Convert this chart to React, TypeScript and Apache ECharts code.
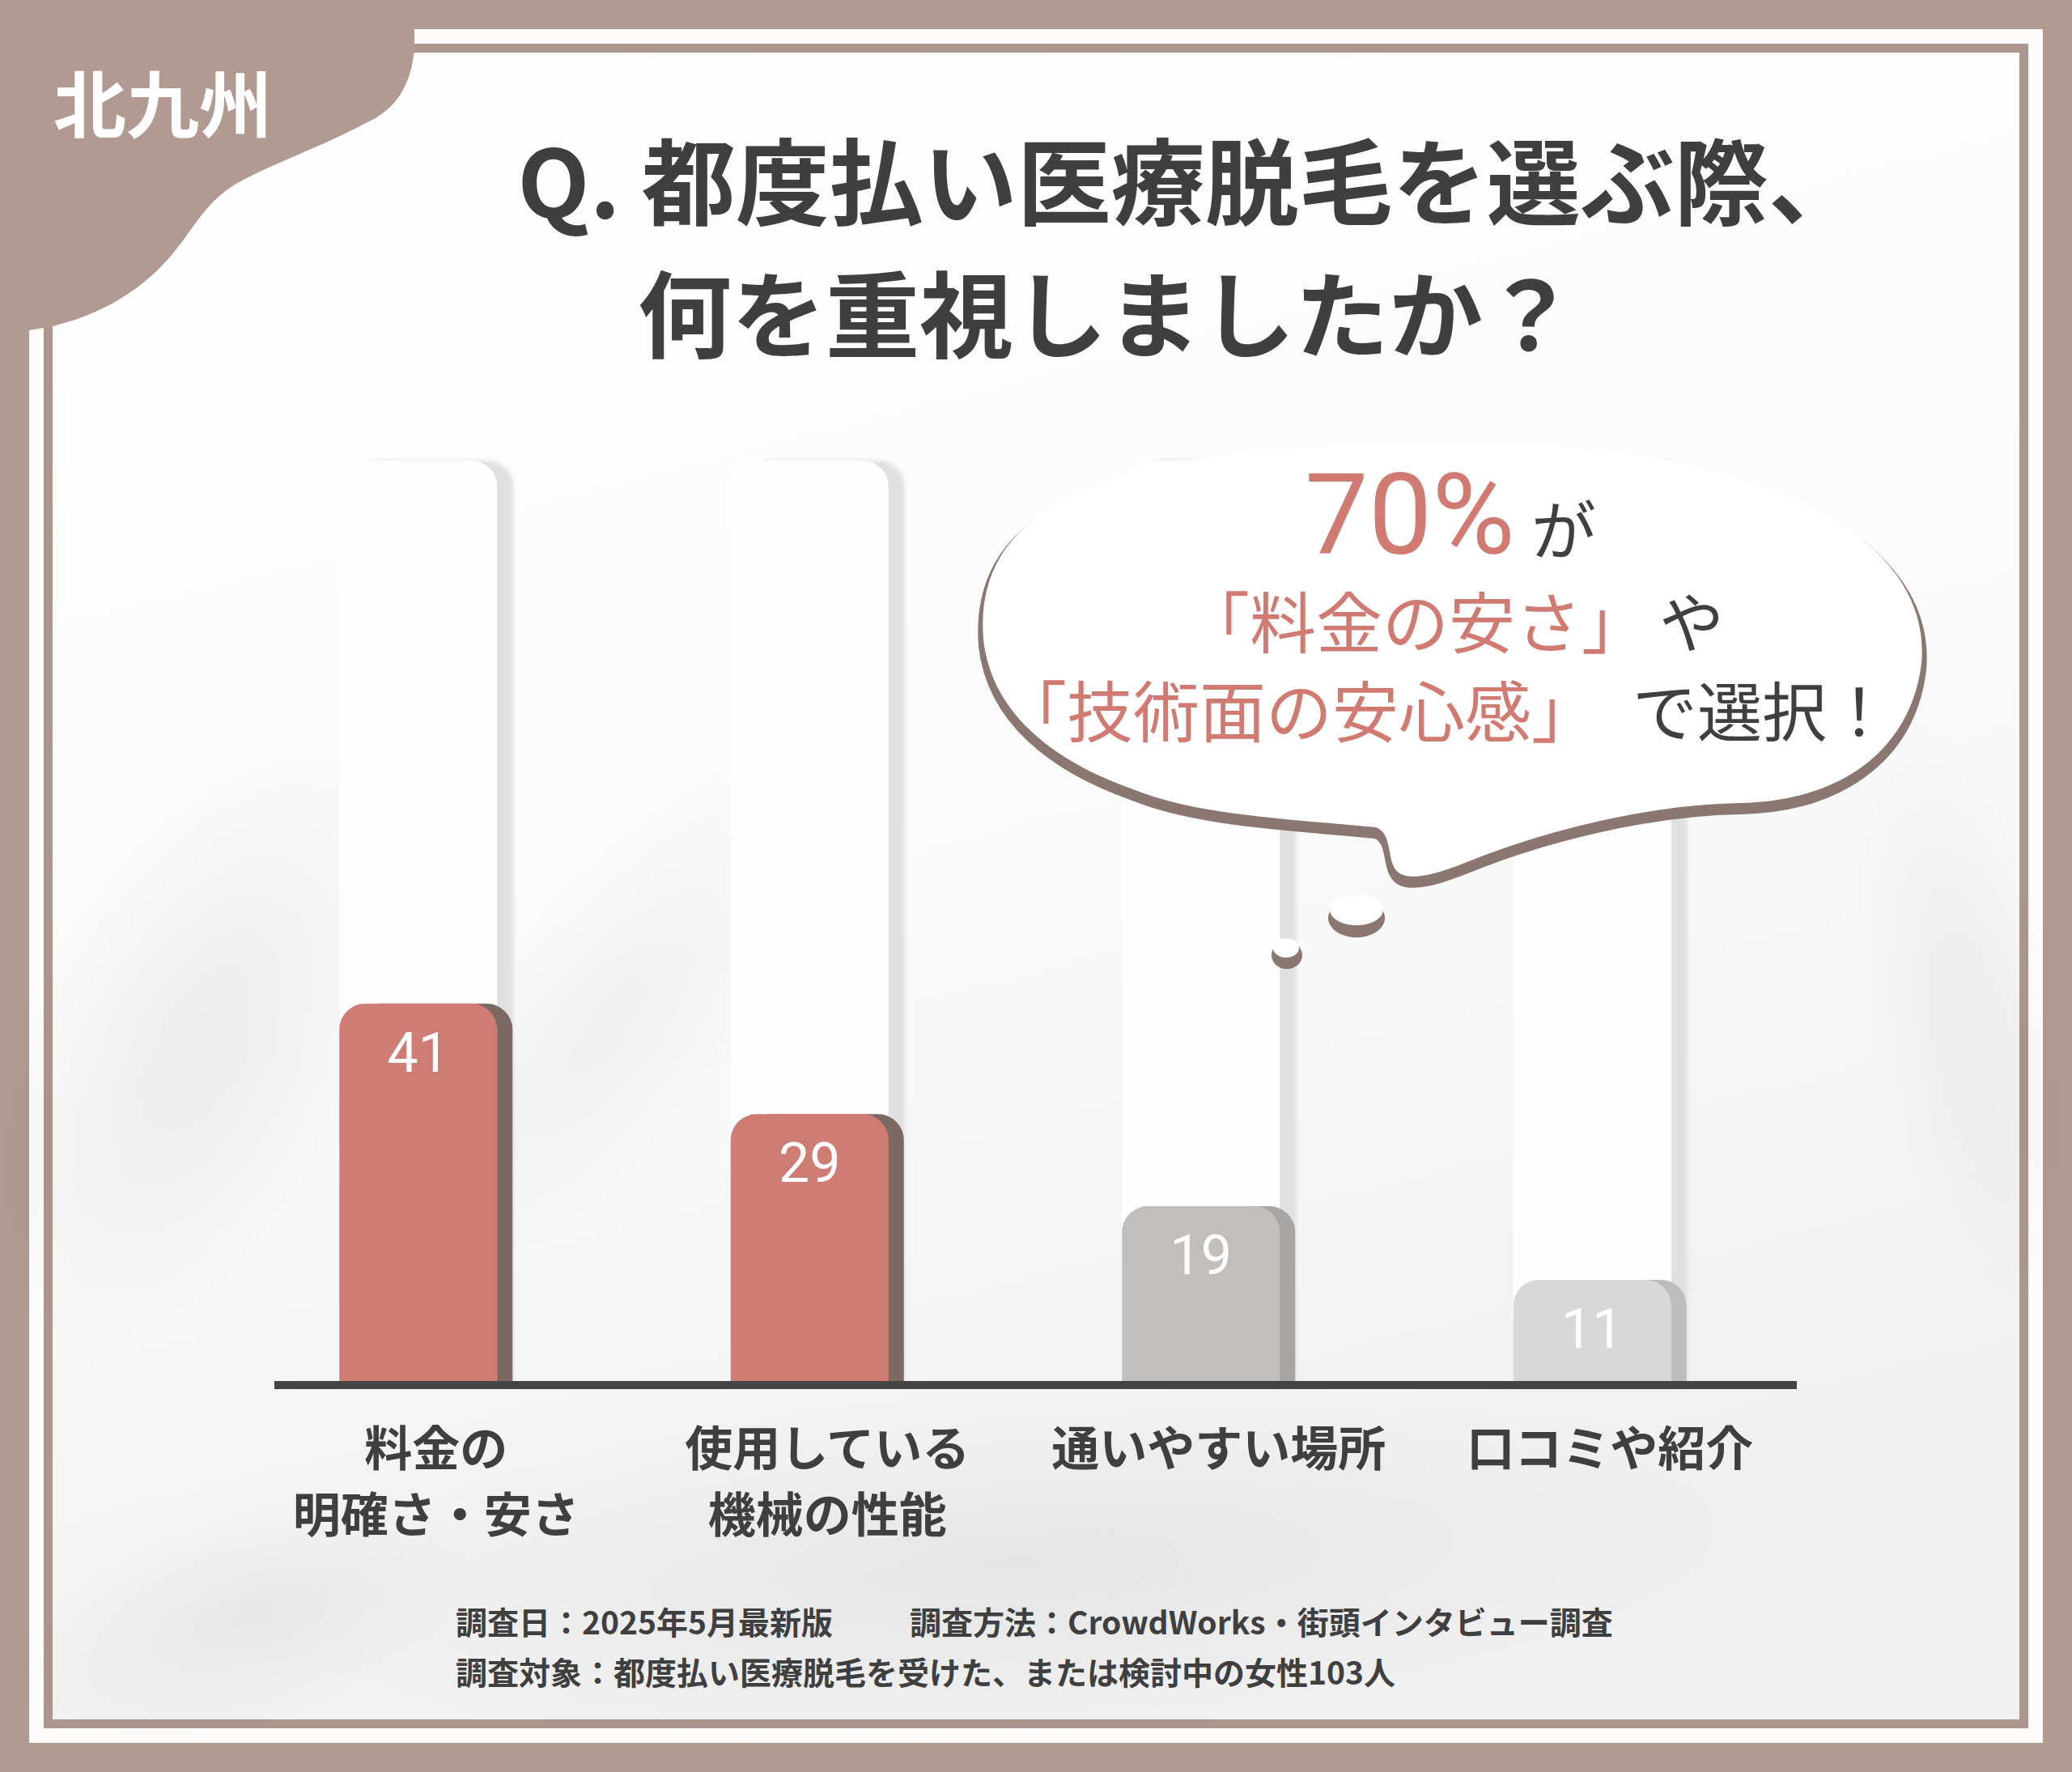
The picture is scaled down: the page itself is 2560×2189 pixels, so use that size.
import { useEffect, useRef } from "react";
import * as echarts from "echarts";

// chart data
const categories = ["料金の\n明確さ・安さ", "使用している\n機械の性能", "通いやすい場所", "口コミや紹介"];
const values = [41, 29, 19, 11];
const trackValues = [100, 100, 100, 100];
const barColors = ["#cf7b75", "#cf7b75", "#c1bebc", "#d9d8d8"];
const barShadowColors = ["#7d6964", "#7d6964", "#a8a6a5", "#bebdbd"];

// texts
const regionLabel = "北九州";
const titleLines = ["Q. 都度払い医療脱毛を選ぶ際、", "何を重視しましたか？"];
const bubbleHead = ["70%", "が"];
const bubbleLine1 = ["「料金の安さ」", "や"];
const bubbleLine2 = ["「技術面の安心感」", "で選択！"];
const footerLines = [
  "調査日：2025年5月最新版",
  "調査方法：CrowdWorks・街頭インタビュー調査",
  "調査対象：都度払い医療脱毛を受けた、または検討中の女性103人",
];

const BROWN = "#b09a92";
const INK = "#3f3f3f";
const ROSE = "#d07a72";
const JP = '"Noto Sans CJK JP", "Noto Sans", sans-serif';

const BLOB_PATH =
  "M 0 0 L 512 0 L 512 60 C 508 105 490 135 452 152 C 400 180 330 205 290 228 " +
  "C 255 250 240 280 220 305 C 190 345 140 385 65 403 L 36 408 L 0 408 Z";

const BUBBLE_PATH =
  "M 1215 790 C 1200 600 1420 548 1800 546 C 2120 544 2390 640 2374 820 " +
  "C 2360 930 2270 990 2150 992 C 2030 994 1900 1030 1820 1062 " +
  "C 1780 1078 1745 1090 1728 1078 C 1712 1066 1722 1030 1700 1022 " +
  "C 1600 1012 1480 1008 1400 975 C 1300 940 1225 880 1215 790 Z";

echarts.graphic.registerShape("cornerBlob", echarts.graphic.extendPath(BLOB_PATH, {}));
echarts.graphic.registerShape("speechBubble", echarts.graphic.extendPath(BUBBLE_PATH, {}));

function label(
  text: string,
  x: number,
  y: number,
  size: number,
  color: string,
  extra: Record<string, unknown> = {},
) {
  const align = (extra.textAlign as string) || "left";
  return {
    type: "text",
    x,
    y,
    z: 30,
    silent: true,
    style: {
      text,
      fill: color,
      fontSize: size,
      fontFamily: JP,
      fontWeight: "bold",
      textVerticalAlign: "middle",
      align,
      verticalAlign: "middle",
      ...extra,
      textAlign: align,
    },
  };
}

// soft grey blot used to hint the leafy shadows on the paper
function blot(cx: number, cy: number, rx: number, ry: number, alpha: number, rotation = 0) {
  return {
    type: "ellipse",
    z: 0,
    silent: true,
    x: cx,
    y: cy,
    rotation,
    shape: { cx: 0, cy: 0, rx, ry },
    style: {
      fill: new echarts.graphic.RadialGradient(0.5, 0.5, 0.5, [
        { offset: 0, color: `rgba(0,0,0,${alpha})` },
        { offset: 1, color: "rgba(0,0,0,0)" },
      ]),
    },
  };
}

export default function App() {
  const ref = useRef<HTMLDivElement>(null);

  useEffect(() => {
    if (!ref.current) return;
    const chart = echarts.init(ref.current, undefined, { renderer: "svg" });

    const innerFill = new echarts.graphic.LinearGradient(0, 0, 0.3, 1, [
      { offset: 0, color: "#ffffff" },
      { offset: 0.55, color: "#fbfbfb" },
      { offset: 1, color: "#f1f1f1" },
    ]);

    chart.setOption({
      animation: false,
      backgroundColor: BROWN,
      graphic: [
        // frame
        { type: "rect", z: 0, silent: true, shape: { x: 36, y: 36, width: 2488, height: 2117 }, style: { fill: "#fdfcfb" } },
        { type: "rect", z: 0, silent: true, shape: { x: 54, y: 54, width: 2452, height: 2081 }, style: { fill: "#ad968e" } },
        { type: "rect", z: 0, silent: true, shape: { x: 65, y: 65, width: 2430, height: 2059 }, style: { fill: innerFill } },
        // faint shadows on the paper
        blot(250, 1280, 220, 420, 0.06, -0.5),
        blot(760, 1250, 160, 420, 0.04, -0.7),
        blot(1250, 1930, 1000, 220, 0.05, 0.05),
        blot(2430, 1250, 120, 380, 0.04, 0.2),
        blot(300, 2000, 300, 140, 0.05, 0.3),
        // corner blob and region label
        { type: "cornerBlob", z: 1, silent: true, style: { fill: BROWN } },
        label(regionLabel, 66, 124, 90, "#ffffff"),
        // title
        label(titleLines[0], 1470, 218, 116, INK, { textAlign: "center" }),
        label(titleLines[1], 1368, 382, 116, INK, { textAlign: "center" }),
        // baseline
        { type: "line", z: 10, silent: true, shape: { x1: 339, y1: 1711, x2: 2220, y2: 1711 }, style: { stroke: "#444444", lineWidth: 10 } },
        // speech bubble
        { type: "speechBubble", z: 20, silent: true, y: 8, style: { fill: "#8b7771", stroke: "#8b7771", lineWidth: 12 } },
        { type: "speechBubble", z: 21, silent: true, style: { fill: "#ffffff" } },
        { type: "ellipse", z: 20, silent: true, shape: { cx: 1676, cy: 1134, rx: 35, ry: 24 }, style: { fill: "#8b7771" } },
        { type: "ellipse", z: 21, silent: true, shape: { cx: 1676, cy: 1124, rx: 33, ry: 19 }, style: { fill: "#ffffff" } },
        { type: "ellipse", z: 20, silent: true, shape: { cx: 1590, cy: 1180, rx: 19, ry: 17 }, style: { fill: "#8b7771" } },
        { type: "ellipse", z: 21, silent: true, shape: { cx: 1589, cy: 1171, rx: 16, ry: 12 }, style: { fill: "#ffffff" } },
        label(bubbleHead[0], 1612, 636, 140, ROSE, { fontFamily: "Roboto, sans-serif", fontWeight: "normal" }),
        label(bubbleHead[1], 1892, 650, 80, INK, { fontWeight: "normal" }),
        label(bubbleLine1[0], 1462, 764, 82, ROSE, { fontWeight: "normal" }),
        label(bubbleLine1[1], 2050, 764, 80, INK, { fontWeight: "normal" }),
        label(bubbleLine2[0], 1236, 874, 82, ROSE, { fontWeight: "normal" }),
        label(bubbleLine2[1], 2017, 874, 80, INK, { fontWeight: "normal" }),
        // footer
        label(footerLines[0], 563, 2002, 39, INK),
        label(footerLines[1], 1124, 2002, 39, INK),
        label(footerLines[2], 563, 2064, 39, INK),
      ],
      grid: { left: 275, width: 1934, top: 569, height: 1137 },
      xAxis: {
        type: "category",
        data: categories,
        axisLine: { show: false },
        axisTick: { show: false },
        axisLabel: {
          interval: 0,
          margin: 38,
          fontSize: 59,
          lineHeight: 82,
          fontWeight: "bold",
          fontFamily: JP,
          color: INK,
          padding: [0, 0, 0, 44],
        },
      },
      yAxis: { type: "value", min: 0, max: 100, show: false },
      series: [
        {
          type: "bar",
          z: 1,
          silent: true,
          barWidth: 195,
          barGap: "-100%",
          data: trackValues,
          itemStyle: {
            color: "#fefefe",
            borderRadius: [32, 32, 0, 0],
            shadowColor: "#e0e0e0",
            shadowOffsetX: 20,
            shadowBlur: 5,
          },
        },
        {
          type: "bar",
          z: 3,
          barWidth: 195,
          barGap: "-100%",
          data: values.map((v, i) => ({
            value: v,
            itemStyle: { color: barColors[i], shadowColor: barShadowColors[i] },
          })),
          itemStyle: {
            borderRadius: [32, 32, 0, 0],
            shadowOffsetX: 19,
            shadowBlur: 0,
          },
          label: {
            show: true,
            position: "insideTop",
            distance: 27,
            color: "#ffffff",
            fontSize: 68,
            fontFamily: "Roboto, sans-serif",
          },
        },
      ],
    });

    return () => chart.dispose();
  }, []);

  return (
    <div
      ref={ref}
      style={{ position: "absolute", left: 0, top: 0, width: 2560, height: 2189 }}
    />
  );
}
